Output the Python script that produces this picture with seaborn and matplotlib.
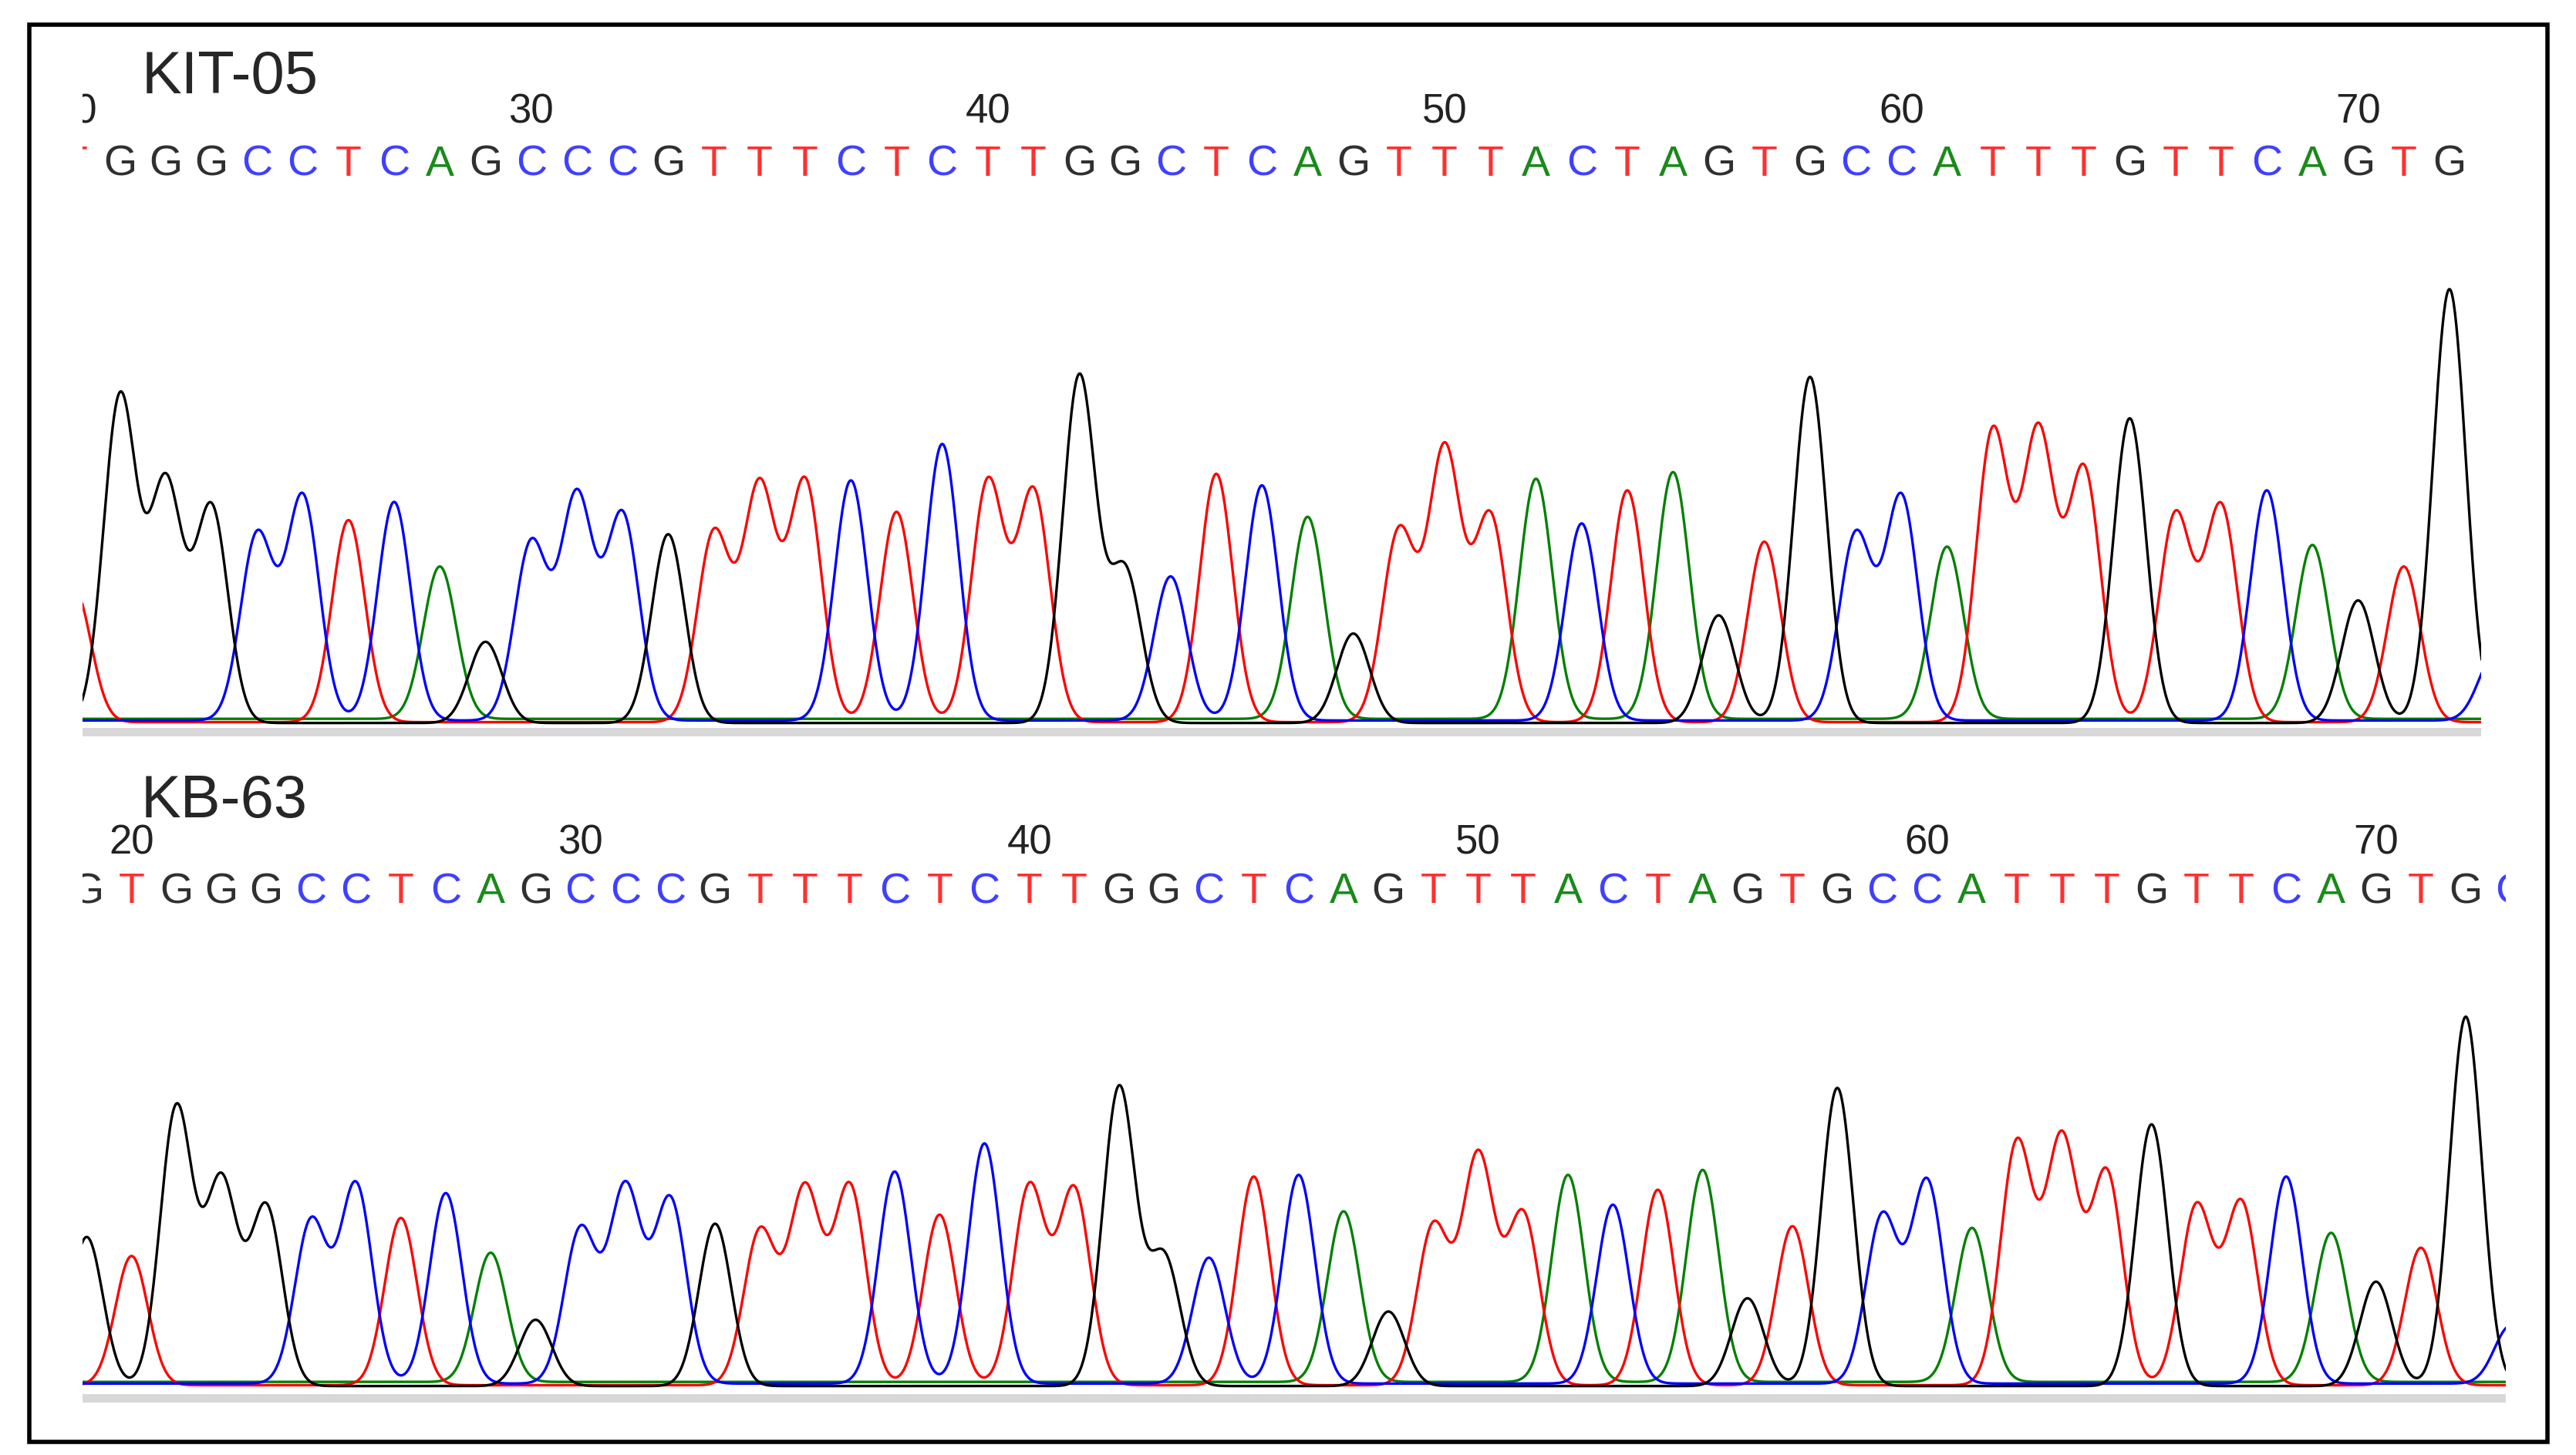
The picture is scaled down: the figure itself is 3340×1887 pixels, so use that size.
import numpy as np
import pandas as pd
import matplotlib
matplotlib.use("Agg")
import matplotlib.pyplot as plt
import seaborn as sns

sns.set_theme(style="white")
plt.rcParams["font.family"] = ["Liberation Sans Narrow", "Liberation Sans", "DejaVu Sans"]

# Couleurs des bases (convention chromatogramme)
BASE_COLORS = {"G": "#000000", "A": "#008000", "T": "#ff0000", "C": "#0000ff"}
LETTER_COLORS = {"G": "#303030", "A": "#1a8a1a", "T": "#ff3030", "C": "#4040ff"}

# ── KIT-05 ───────────────────────────────────────────────────────────────
kit_start = 20
kit_seq = "TGGGCCTCAGCCCGTTTCTCTTGGCTCAGTTTACTAGTGCCATTTGTTCAGTGC"
kit_heights = [80, 197, 144, 130, 112, 135, 122, 132, 92, 49,
               107, 135, 124, 114, 114, 142, 145, 145, 127, 167,
               145, 139, 209, 92, 87, 150, 142, 122, 54, 115,
               164, 124, 145, 119, 140, 149, 65, 109, 209, 112,
               135, 104, 175, 174, 152, 184, 125, 130, 139, 105,
               74, 94, 262, 40]

# ── KB-63 ────────────────────────────────────────────────────────────────
kb_start = 19
kb_seq = "GTGGGCCTCAGCCCGTTTCTCTTGGCTCAGTTTACTAGTGCCATTTGTTCAGTGC"
kb_heights = [90, 78, 168, 123, 108, 98, 120, 101, 115, 78,
              40, 93, 118, 111, 98, 93, 118, 120, 128, 103,
              145, 120, 118, 180, 78, 76, 126, 126, 103, 45,
              96, 138, 103, 125, 108, 118, 128, 53, 96, 180,
              101, 122, 93, 146, 148, 128, 158, 108, 110, 125,
              90, 63, 83, 223, 35]


def traces(seq, heights, start):
    """Somme de pics gaussiens par base, à partir des positions et hauteurs."""
    x = np.linspace(start - 1.5, start + len(seq) + 1.5, 4000)
    rows = []
    for base, offset in zip("ATCG", [2.5, 0.5, 1.5, 0.0]):
        y = np.full_like(x, offset)
        for i, (b, h) in enumerate(zip(seq, heights)):
            if b == base:
                y += h * np.exp(-0.5 * ((x - (start + i)) / 0.36) ** 2)
        rows.append(pd.DataFrame({"pos": x, "signal": y, "base": base}))
    return pd.concat(rows, ignore_index=True)


def draw_panel(ax, title, seq, heights, start, xlim, ylim, y_letter, y_num, y_title, ticks):
    df = traces(seq, heights, start)
    sns.lineplot(data=df, x="pos", y="signal", hue="base", palette=BASE_COLORS,
                 linewidth=2.4, legend=False, ax=ax, estimator=None, sort=False)
    ax.axhspan(ylim[0], ylim[0] + 5, color="#d8d8d8", lw=0)
    for i, b in enumerate(seq):
        ax.text(start + i, y_letter, b, color=LETTER_COLORS[b], fontsize=40,
                ha="center", va="center", clip_on=True)
    for t in ticks:
        ax.text(t, y_num, str(t), color="#222222", fontsize=38,
                ha="center", va="center", clip_on=True)
    ax.text(xlim[0] + 1.3, y_title, title, fontsize=56, ha="left", va="center",
            family=["Liberation Sans", "DejaVu Sans"])
    ax.set_xlim(*xlim)
    ax.set_ylim(*ylim)
    ax.set_axis_off()


fig = plt.figure(figsize=(33.41, 18.87), dpi=100)

ax_top = fig.add_axes([0.0319, 0.494, 0.9311, 0.478])
draw_panel(ax_top, "KIT-05", kit_seq, kit_heights, kit_start,
           (20.17, 72.7), (-8, 412), 337, 369, 390, [20, 30, 40, 50, 60, 70])

ax_bot = fig.add_axes([0.0319, 0.036, 0.9407, 0.436])
draw_panel(ax_bot, "KB-63", kb_seq, kb_heights, kb_start,
           (18.9, 72.9), (-10, 373), 298, 328, 353, [20, 30, 40, 50, 60, 70])

# cadre extérieur
fig.patches.append(plt.Rectangle((0.0115, 0.009), 0.977, 0.974, transform=fig.transFigure,
                                 fill=False, edgecolor="black", linewidth=4))

fig.savefig("out.png", dpi=100)
